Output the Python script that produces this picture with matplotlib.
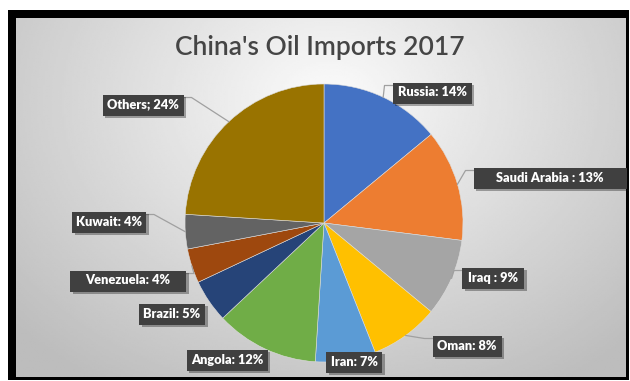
import numpy as np
import matplotlib.pyplot as plt
import matplotlib.patheffects as pe
from matplotlib.patches import Rectangle

# data
countries = ["Russia", "Saudi Arabia", "Iraq", "Oman", "Iran", "Angola",
             "Brazil", "Venezuela", "Kuwait", "Others"]
shares = [14, 13, 9, 8, 7, 12, 5, 4, 4, 24]
labels = ["Russia: 14%", "Saudi Arabia : 13%", "Iraq : 9%", "Oman: 8%",
          "Iran: 7%", "Angola: 12%", "Brazil: 5%", "Venezuela: 4%",
          "Kuwait: 4%", "Others; 24%"]
colors = ["#4472C4", "#ED7D31", "#A5A5A5", "#FFC000", "#5B9BD5",
          "#70AD47", "#264478", "#9E480E", "#636363", "#997300"]

# layout (pixels, image coords: y down)
W, H = 630, 381
box_xy = [(432, 93), (550, 178), (493, 278), (467, 346), (354, 362),
          (227, 360), (172, 314), (128, 281), (109, 222), (143, 105)]
box_w = [79, 153, 62, 69, 56, 81, 66, 116, 74, 81]
box_h = 21
leader = [True, True, True, True, False, False, False, True, True, True]
cx, cy, r = 324, 223, 139

fig = plt.figure(figsize=(W / 100, H / 100), dpi=100)
ax = fig.add_axes([0, 0, 1, 1])

def fy(y):
    return H - y

# background gradient inside the frame
x0, x1, y0, y1 = 16, 626, 18, 377
gx, gy = np.meshgrid(np.linspace(x0, x1, 300), np.linspace(y0, y1, 200))
d = np.sqrt(((gx - 330) / 420) ** 2 + ((gy - 100) / 330) ** 2)
g = np.clip(0.985 - 0.24 * d, 0.74, 1.0)
ax.imshow(g, cmap="gray", vmin=0, vmax=1, extent=(x0, x1, fy(y1), fy(y0)),
          origin="upper", zorder=0, interpolation="bilinear", aspect="auto")

# black frame
ax.add_patch(Rectangle((8, fy(380)), 621, 370, fc="black", ec="none", zorder=-1))

wedges, _ = ax.pie(shares, colors=colors, startangle=90, counterclock=False,
                   center=(cx, fy(cy)), radius=r,
                   wedgeprops=dict(edgecolor="#dddddd", linewidth=0.4))
for w in wedges:
    w.set_zorder(2)

ax.text(320, fy(48), "China's Oil Imports 2017", ha="center", va="center",
        fontsize=19, color="#454545", family="Lato", fontweight=600)

cum = np.cumsum([0] + shares)
for i, lab in enumerate(labels):
    bx, by = box_xy[i]
    rect = Rectangle((bx - box_w[i] / 2, fy(by) - box_h / 2), box_w[i], box_h,
                     fc="#404040", ec="none", zorder=4)
    rect.set_path_effects([pe.SimplePatchShadow(offset=(2, -2), alpha=0.35),
                           pe.Normal()])
    ax.add_patch(rect)
    ax.text(bx, fy(by) + 0.5, lab, ha="center", va="center", color="white",
            fontsize=9.2, fontweight="heavy", family="Lato", zorder=5)
    if leader[i]:
        mid = np.deg2rad((cum[i] + shares[i] / 2) / 100 * 360)
        px = cx + r * np.sin(mid)
        py = cy - r * np.cos(mid)
        ly = by - box_h / 2 + 3
        if bx > cx:
            ex = bx - box_w[i] / 2
            kx = ex - 8
        else:
            ex = bx + box_w[i] / 2
            kx = ex + 8
        ax.plot([ex, kx, px], [fy(ly), fy(ly), fy(py)], color="#a0a0a0",
                lw=0.9, zorder=3)

ax.set_xlim(0, W)
ax.set_ylim(0, H)
ax.set_aspect("auto")
ax.axis("off")
fig.savefig("out.png", dpi=100)
